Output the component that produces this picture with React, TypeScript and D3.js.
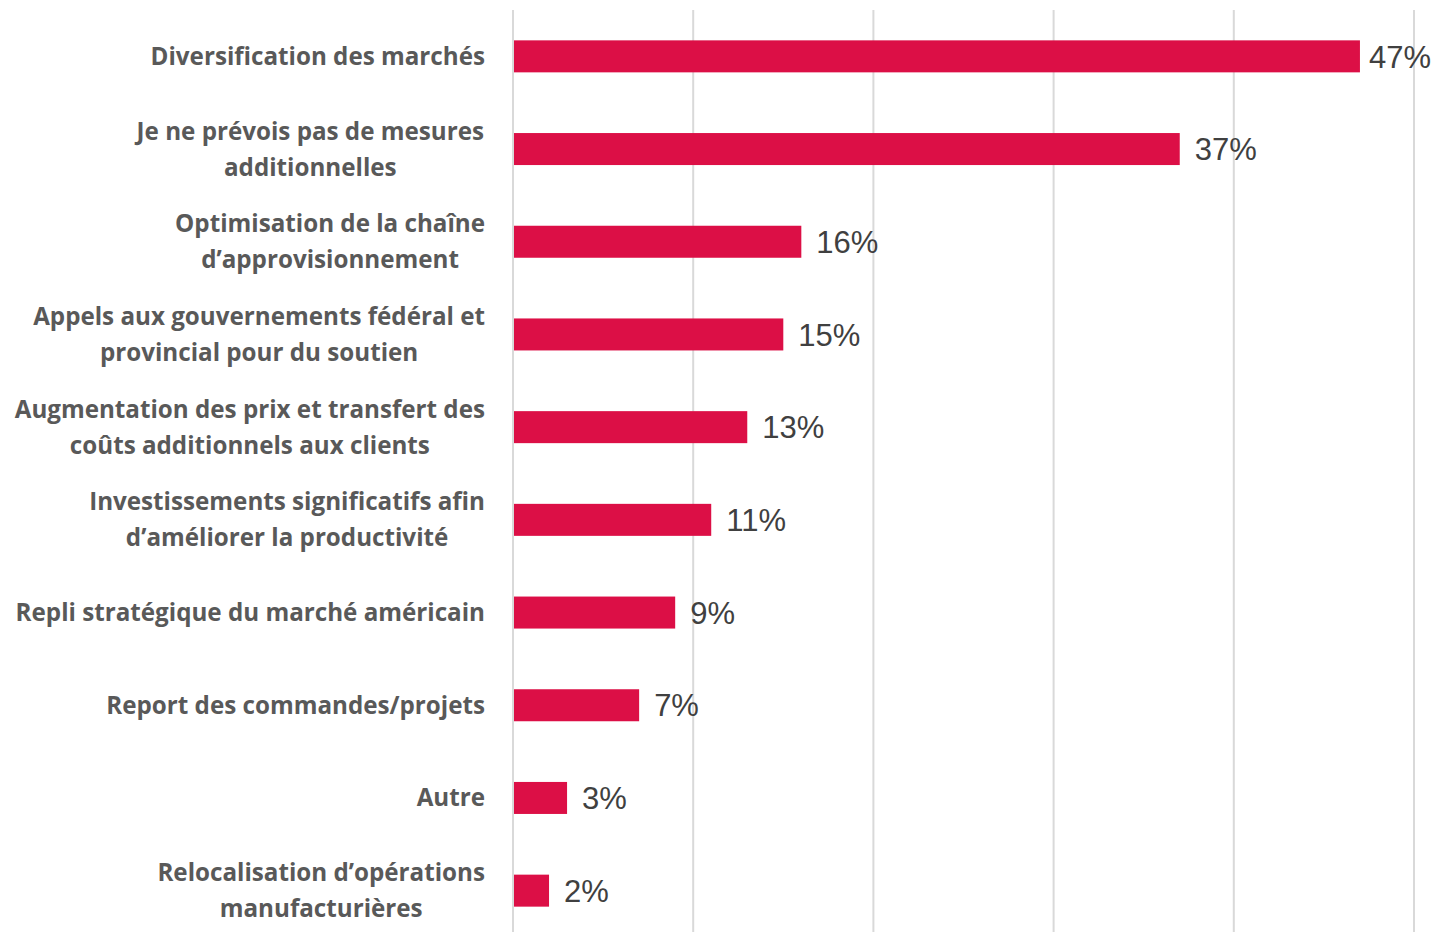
import React, { useEffect, useRef } from 'react';
import * as d3 from 'd3';

const categories: string[][] = [
  ['Diversification des marchés'],
  ['Je ne prévois pas de mesures', 'additionnelles'],
  ['Optimisation de la chaîne', 'd’approvisionnement'],
  ['Appels aux gouvernements fédéral et', 'provincial pour du soutien'],
  ['Augmentation des prix et transfert des', 'coûts additionnels aux clients'],
  ['Investissements significatifs afin', 'd’améliorer la productivité'],
  ['Repli stratégique du marché américain'],
  ['Report des commandes/projets'],
  ['Autre'],
  ['Relocalisation d’opérations', 'manufacturières'],
];
const values = [47, 37, 16, 15, 13, 11, 9, 7, 3, 2];
const ticks = [0, 10, 20, 30, 40, 50];

const W = 1434;
const H = 932;

const App = () => {
  const svgRef = useRef<SVGSVGElement>(null);

  useEffect(() => {
    const svg = d3.select(svgRef.current);
    svg.selectAll('*').remove();

    const ids = categories.map((_, i) => String(i));
    const x = d3.scaleLinear().domain([0, 50]).range([513, 1414]);
    const y = d3.scaleBand().domain(ids).range([10, 937]).padding(0);
    const barH = 32;

    // gridlines
    svg
      .append('g')
      .selectAll('line')
      .data(ticks)
      .enter()
      .append('line')
      .attr('x1', (d) => x(d))
      .attr('x2', (d) => x(d))
      .attr('y1', 10)
      .attr('y2', H)
      .attr('stroke', '#d9d9d9')
      .attr('stroke-width', 2);

    const rows = svg
      .append('g')
      .selectAll('g')
      .data(values)
      .enter()
      .append('g')
      .attr('transform', (_, i) => `translate(0,${y(String(i))! + y.bandwidth() / 2})`);

    rows
      .append('rect')
      .attr('x', x(0) + 1)
      .attr('y', -barH / 2)
      .attr('width', (d) => x(d) - x(0) - 1)
      .attr('height', barH)
      .attr('fill', '#dc0f46');

    rows
      .append('text')
      .attr('y', 0)
      .attr('dy', '0.36em')
      .attr('font-family', 'Liberation Sans, Arial, sans-serif')
      .attr('font-size', 31)
      .attr('fill', '#404040')
      .text((d) => `${d}%`)
      .attr('x', function (d) {
        const w = (this as SVGTextElement).getComputedTextLength();
        return Math.min(x(d) + 15, 1431 - w);
      });

    rows.each(function (_, i) {
      const lines = categories[i];
      const t = d3
        .select(this)
        .append('text')
        .attr('text-anchor', 'middle')
        .attr('font-family', 'Open Sans, sans-serif')
        .attr('font-weight', 700)
        .attr('font-size', 24.2)
        .attr('fill', '#595959');
      const lh = 36;
      const off = -((lines.length - 1) * lh) / 2;
      lines.forEach((line, j) => {
        t.append('tspan')
          .attr('x', 0)
          .attr('y', off + j * lh)
          .attr('dy', '0.35em')
          .text(line);
      });
      // right-align the block, lines centred against each other
      const bb = (t.node() as SVGTextElement).getBBox();
      t.selectAll('tspan').attr('x', 485 - bb.width / 2);
    });
  }, []);

  return <svg ref={svgRef} width={W} height={H} style={{ display: 'block', position: 'absolute', left: 0, top: 0, background: '#fff' }} />;
};

export default App;
